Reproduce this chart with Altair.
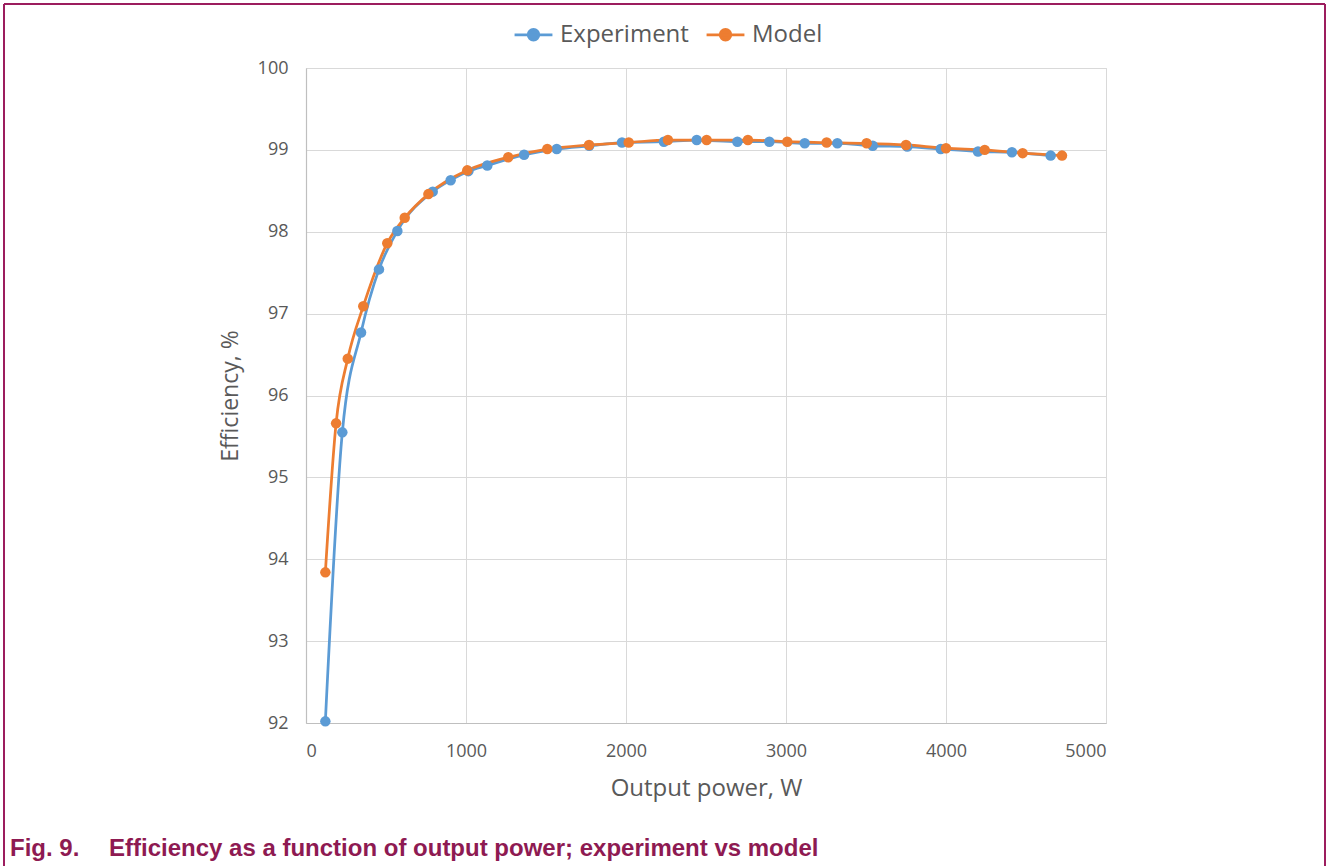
import altair as alt
import pandas as pd

# Measured efficiency points
exp_power = [121, 227, 344, 456, 571, 792, 904, 1015, 1133, 1363, 1567, 1770, 1975,
             2237, 2442, 2696, 2896, 3117, 3321, 3542, 3758, 3967, 4200, 4412, 4654]
exp_eff = [92.02, 95.55, 96.77, 97.54, 98.01, 98.49, 98.63, 98.74, 98.81, 98.94, 99.01, 99.05, 99.09,
           99.10, 99.12, 99.10, 99.10, 99.08, 99.08, 99.05, 99.04, 99.01, 98.98, 98.97, 98.93]

# Model prediction points
mod_power = [121, 188, 261, 358, 508, 617, 765, 1008, 1264, 1508, 1769, 2017,
             2262, 2504, 2762, 3008, 3254, 3504, 3750, 4000, 4242, 4479, 4725]
mod_eff = [93.84, 95.66, 96.45, 97.09, 97.86, 98.17, 98.46, 98.75, 98.91, 99.01, 99.06, 99.09,
           99.12, 99.12, 99.12, 99.10, 99.09, 99.08, 99.06, 99.02, 99.00, 98.96, 98.93]

series = ["Experiment", "Model"]
colors = ["#5B9BD5", "#ED7D31"]
x_ticks = [0, 1000, 2000, 3000, 4000, 5000]
y_ticks = [92, 93, 94, 95, 96, 97, 98, 99, 100]

df = pd.concat([
    pd.DataFrame({"power": exp_power, "eff": exp_eff, "series": series[0], "order": range(len(exp_power))}),
    pd.DataFrame({"power": mod_power, "eff": mod_eff, "series": series[1], "order": range(len(mod_power))}),
])

W, H = 800, 655
LEFT, TOP = 306, 68
FONT = "Open Sans"
GREY = "#595959"
FRAME = "#9C1D5E"
CAPTION = "#8E1A52"

# legend glyph: short line with a dot in the middle
legend_symbol = "M-1.6,0H1.6M0.45,0A0.45,0.45 0 1 1 -0.45,0A0.45,0.45 0 1 1 0.45,0Z"

x = alt.X("power:Q", title="Output power, W",
          scale=alt.Scale(domain=[0, 5000], nice=False),
          axis=alt.Axis(values=x_ticks, format="d", ticks=False, labelPadding=19,
                        titlePadding=16, titleFontSize=24))
y = alt.Y("eff:Q", title="Efficiency, %",
          scale=alt.Scale(domain=[92, 100], nice=False, zero=False),
          axis=alt.Axis(values=y_ticks, format="d", ticks=False, labelPadding=18,
                        titlePadding=15, titleFontSize=23))
color = alt.Color("series:N", title=None,
                  scale=alt.Scale(domain=series, range=colors),
                  legend=alt.Legend(orient="none", legendX=214, legendY=-47, direction="horizontal",
                                    symbolType=legend_symbol, symbolSize=560,
                                    symbolStrokeWidth=2.75, symbolFillColor=None,
                                    labelFont=FONT, labelFontSize=24, labelColor=GREY,
                                    columnPadding=12, labelOffset=13))

base = alt.Chart(df)
lines = base.mark_line(strokeWidth=2.75, interpolate="monotone").encode(
    x=x, y=y, color=color, order="order:Q")
points = base.mark_circle(size=110, opacity=1).encode(
    x=x, y=y, color=alt.Color("series:N", scale=alt.Scale(domain=series, range=colors), legend=None))

# Figure frame and caption
frame_top = alt.Chart().mark_rule(color=FRAME, strokeWidth=2).encode(
    x=alt.value(4 - LEFT), x2=alt.value(1325 - LEFT), y=alt.value(4 - TOP))
frame_left = alt.Chart().mark_rule(color=FRAME, strokeWidth=2).encode(
    x=alt.value(4 - LEFT), y=alt.value(4 - TOP), y2=alt.value(866 - TOP))
frame_right = alt.Chart().mark_rule(color=FRAME, strokeWidth=2).encode(
    x=alt.value(1325 - LEFT), y=alt.value(4 - TOP), y2=alt.value(866 - TOP))
cap1 = alt.Chart().mark_text(text="Fig. 9.", font="Liberation Sans", fontWeight="bold", fontSize=24,
                             color=CAPTION, align="left", baseline="alphabetic").encode(
    x=alt.value(10 - LEFT), y=alt.value(856 - TOP))
cap2 = alt.Chart().mark_text(text="Efficiency as a function of output power; experiment vs model",
                             font="Liberation Sans", fontWeight="bold", fontSize=24,
                             color=CAPTION, align="left", baseline="alphabetic").encode(
    x=alt.value(109 - LEFT), y=alt.value(856 - TOP))

chart = alt.layer(lines, points, frame_top, frame_left, frame_right, cap1, cap2).properties(
    width=W, height=H,
    background="white",
    autosize=alt.AutoSizeParams(type="none"),
    padding={"left": LEFT, "top": TOP, "right": 1329 - LEFT - W, "bottom": 866 - TOP - H},
).configure_view(
    stroke="#D9D9D9", strokeWidth=1
).configure_axis(
    labelFont=FONT, labelFontSize=18, labelColor=GREY,
    titleFont=FONT, titleColor=GREY, titleFontWeight="normal",
    gridColor="#D9D9D9", gridWidth=1, domainColor="#BFBFBF", domainWidth=1.2
)

chart.save("out.html", embed_options={"renderer": "svg", "actions": False})
